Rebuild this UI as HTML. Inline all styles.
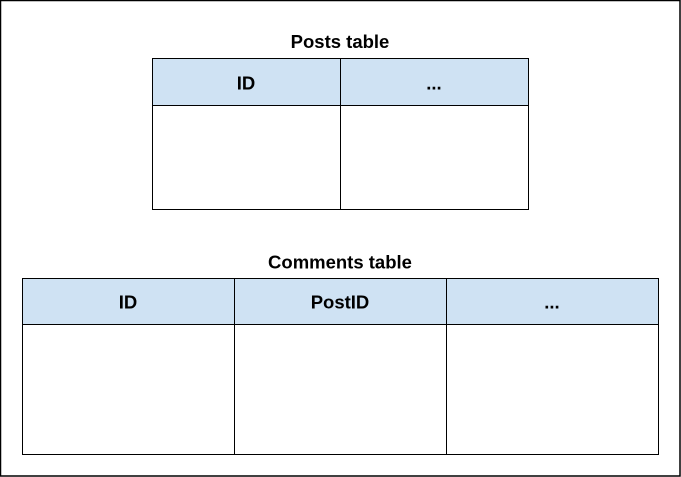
<!DOCTYPE html>
<html><head><style>html,body{margin:0;padding:0;background:#fff}svg{display:block}</style></head>
<body>
<svg width="681" height="477" xmlns="http://www.w3.org/2000/svg" font-family="Liberation Sans, Arial, sans-serif" font-weight="bold">
<rect x="0.5" y="0.5" width="679.5" height="475.5" fill="#fff" stroke="#000" stroke-width="1.5"/>
<text x="340" y="48" font-size="18.5" text-anchor="middle" fill="#000">Posts table</text>
<rect x="152.5" y="58.5" width="376" height="47" fill="#cfe2f3"/>
<g stroke="#000" stroke-width="1" fill="none">
<rect x="152.5" y="58.5" width="376" height="151"/>
<line x1="152" y1="105.5" x2="529" y2="105.5"/>
<line x1="340.5" y1="58" x2="340.5" y2="210"/>
</g>
<text x="246" y="89.5" font-size="18.5" text-anchor="middle">ID</text>
<text x="434" y="89.5" font-size="18.5" text-anchor="middle">...</text>
<text x="340" y="268.5" font-size="18.5" text-anchor="middle" fill="#000">Comments table</text>
<rect x="22.5" y="278.5" width="636" height="46" fill="#cfe2f3"/>
<g stroke="#000" stroke-width="1" fill="none">
<rect x="22.5" y="278.5" width="636" height="176"/>
<line x1="22" y1="324.5" x2="659" y2="324.5"/>
<line x1="234.5" y1="278" x2="234.5" y2="455"/>
<line x1="446.5" y1="278" x2="446.5" y2="455"/>
</g>
<text x="128" y="308.5" font-size="18.5" text-anchor="middle">ID</text>
<text x="340" y="308.5" font-size="18.5" text-anchor="middle">PostID</text>
<text x="552" y="308.5" font-size="18.5" text-anchor="middle">...</text>
</svg>
</body></html>
